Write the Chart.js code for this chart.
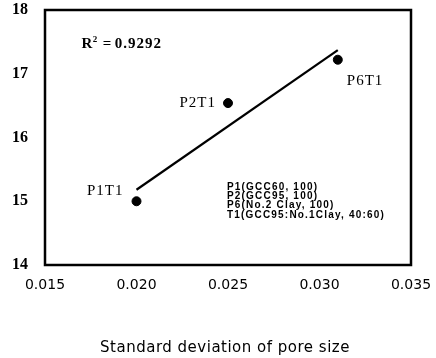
<!DOCTYPE html>
<html>
<head>
<meta charset="utf-8">
<script src="https://cdn.jsdelivr.net/npm/chart.js@4/dist/chart.umd.min.js"></script>
<style>
  html, body { margin: 0; padding: 0; background: #fff; }
  #wrap { width: 436px; height: 358px; }
</style>
</head>
<body>
<div id="wrap"><canvas id="c" width="436" height="358"></canvas></div>
<script>
// ---- data ----
const xValues = [0.020, 0.025, 0.031];
const yValues = [15.0, 16.54, 17.22];
const pointLabels = ['P1T1', 'P2T1', 'P6T1'];
const trendX = [0.020, 0.031];
const trendY = [15.18, 17.37];
const xTicks = [0.015, 0.020, 0.025, 0.030, 0.035];
const yTicks = [14, 15, 16, 17, 18];
const r2Value = '0.9292';
const noteLines = [
  'P1(GCC60, 100)',
  'P2(GCC95, 100)',
  'P6(No.2 Clay, 100)',
  'T1(GCC95:No.1Clay, 40:60)'
];
const xTitle = 'Standard deviation of pore size';

// label offsets (pixels) per point: [dx, dy, align]
const labelOffsets = [[-13, -10, 'right'], [-12, 0, 'right'], [9, 21, 'left']];

const annotate = {
  id: 'annotate',
  afterDraw(chart) {
    const ctx = chart.ctx;
    const a = chart.chartArea;
    const xs = chart.scales.x, ys = chart.scales.y;
    ctx.save();
    // frame
    ctx.strokeStyle = '#000';
    ctx.lineWidth = 2.5;
    ctx.strokeRect(a.left, a.top, a.right - a.left, a.bottom - a.top);
    // point labels
    ctx.fillStyle = '#000';
    ctx.font = '15px "Liberation Serif"';
    ctx.letterSpacing = '1px';
    ctx.textBaseline = 'middle';
    const meta = chart.getDatasetMeta(0);
    meta.data.forEach((pt, i) => {
      const o = labelOffsets[i];
      ctx.textAlign = o[2];
      ctx.fillText(pointLabels[i], pt.x + o[0], pt.y + o[1]);
    });
    // R^2 text
    const rx = xs.getPixelForValue(0.0170);
    const ry = ys.getPixelForValue(17.46);
    ctx.textAlign = 'left';
    ctx.letterSpacing = '0.3px';
    ctx.font = 'bold 15px "Liberation Serif"';
    ctx.fillText('R', rx, ry);
    const w1 = ctx.measureText('R').width;
    ctx.font = 'bold 9px "Liberation Serif"';
    ctx.fillText('2', rx + w1, ry - 5);
    ctx.font = 'bold 15px "Liberation Serif"';
    ctx.fillText('=', rx + w1 + 10, ry);
    ctx.letterSpacing = '1px';
    ctx.fillText(r2Value, rx + w1 + 22, ry);
    // notes
    const nx = xs.getPixelForValue(0.02494);
    let ny = ys.getPixelForValue(15.22);
    ctx.font = 'bold 10px "Liberation Sans"';
    ctx.letterSpacing = '1.2px';
    noteLines.forEach(line => { ctx.fillText(line, nx, ny); ny += 9.2; });
    // x-axis title
    ctx.font = '15px "DejaVu Sans"';
    ctx.letterSpacing = '0.5px';
    ctx.textAlign = 'center';
    ctx.fillText(xTitle, (a.left + a.right) / 2 - 3, chart.height - 10);
    ctx.restore();
  }
};

new Chart(document.getElementById('c'), {
  type: 'scatter',
  data: {
    datasets: [
      {
        label: 'samples',
        data: xValues.map((x, i) => ({ x: x, y: yValues[i] })),
        backgroundColor: '#000',
        borderColor: '#000',
        pointRadius: 4.5,
        pointHoverRadius: 4.5
      },
      {
        label: 'fit',
        type: 'line',
        data: trendX.map((x, i) => ({ x: x, y: trendY[i] })),
        borderColor: '#000',
        borderWidth: 2.2,
        pointRadius: 0,
        fill: false
      }
    ]
  },
  options: {
    responsive: false,
    animation: false,
    events: [],
    layout: { padding: { left: 0, right: 25, top: 10, bottom: 0 } },
    plugins: { legend: { display: false }, tooltip: { enabled: false } },
    scales: {
      x: {
        type: 'linear',
        min: 0.015, max: 0.035,
        afterBuildTicks: s => { s.ticks = xTicks.map(v => ({ value: v })); },
        afterFit: s => { s.height = 93; s.paddingLeft = 0; s.paddingRight = 0; },
        grid: { display: false, drawTicks: false },
        border: { display: false },
        ticks: {
          color: '#000',
          padding: 12,
          maxRotation: 0,
          font: { family: 'DejaVu Sans', size: 14 },
          callback: v => Number(v).toFixed(3)
        },
        title: { display: false }
      },
      y: {
        type: 'linear',
        min: 14, max: 18,
        afterBuildTicks: s => { s.ticks = yTicks.map(v => ({ value: v })); },
        afterFit: s => { s.width = 45; s.paddingTop = 0; s.paddingBottom = 0; },
        grid: { display: false, drawTicks: false },
        border: { display: false },
        ticks: {
          color: '#000',
          padding: 17,
          font: { family: 'Liberation Serif', size: 16, weight: 'bold' }
        }
      }
    }
  },
  plugins: [annotate]
});
</script>
</body>
</html>
